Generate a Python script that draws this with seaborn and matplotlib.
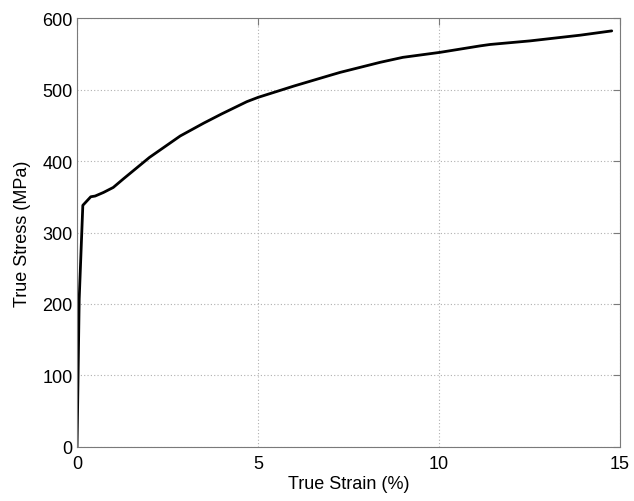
import pandas as pd
import matplotlib
matplotlib.use("Agg")
import matplotlib.pyplot as plt
import seaborn as sns

# =====================================
# DATA
# =====================================

strain = [0.0, 0.06, 0.16, 0.38, 0.5, 0.73, 1.0, 1.28, 2.0, 2.85, 3.5,
          4.0, 4.69, 5.0, 6.0, 7.0, 7.27, 8.37, 9.0, 10.03, 11.13, 11.41,
          12.51, 13.9, 14.77]
stress = [0, 207, 338, 350, 351, 356, 363, 375, 405, 435, 453,
          466, 483, 489, 505, 520, 524, 538, 545, 552, 561, 563,
          568, 576, 582]

df = pd.DataFrame({"strain": strain, "stress": stress})

# =====================================
# PLOT
# =====================================

sns.set_style("white")
plt.rcParams['font.family'] = ['Liberation Sans', 'DejaVu Sans']
plt.rcParams['text.color'] = 'black'
plt.rcParams['axes.labelcolor'] = 'black'
plt.rcParams['xtick.labelcolor'] = 'black'
plt.rcParams['ytick.labelcolor'] = 'black'

fig = plt.figure(figsize=(6.34, 5.02), dpi=100)
ax = fig.add_axes([0.1215, 0.1076, 0.8565, 0.8545])

sns.lineplot(data=df, x="strain", y="stress", color="black",
             linewidth=2.0, sort=False, ax=ax)

ax.set_xlim(0, 15)
ax.set_ylim(0, 600)
ax.set_xticks([0, 5, 10, 15])
ax.set_yticks([0, 100, 200, 300, 400, 500, 600])

ax.grid(True, linestyle=(0, (1, 2)), color="#b0b0b0", linewidth=0.8)
for s in ax.spines.values():
    s.set_color("#7a7a7a")
    s.set_linewidth(0.8)

ax.tick_params(direction="in", length=5, width=0.8, color="#7a7a7a",
               top=True, right=True, labelsize=13)
ax.tick_params(axis="x", pad=6)
ax.tick_params(axis="y", pad=3)

ax.set_xlabel("True Strain (%)", fontsize=13, labelpad=2)
ax.set_ylabel("True Stress (MPa)", fontsize=13, labelpad=8)

fig.savefig("out.png", dpi=100)
